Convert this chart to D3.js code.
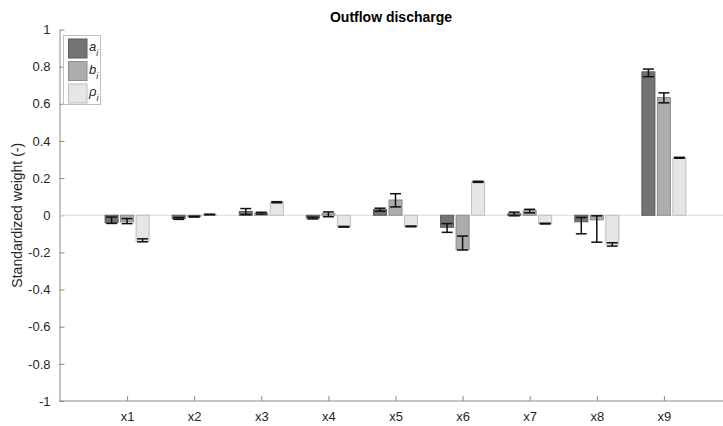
<!DOCTYPE html>
<html>
<head>
<meta charset="utf-8">
<script src="https://cdn.jsdelivr.net/npm/d3@7"></script>
<style>
  html, body { margin: 0; padding: 0; background: #fff; }
  svg { display: block; font-family: "Liberation Sans", Arial, sans-serif; }
</style>
</head>
<body>
<svg id="chart" width="723" height="426"></svg>
<script>
// Predictors
const categories = ["x1", "x2", "x3", "x4", "x5", "x6", "x7", "x8", "x9"];

// Standardized weights per coefficient
const aValues   = [-0.040, -0.018, 0.020, -0.015, 0.030, -0.065, 0.008, -0.035, 0.772];
const bValues   = [-0.035, -0.008, 0.012, 0.008, 0.082, -0.185, 0.025, -0.025, 0.634];
const rhoValues = [-0.140, 0.004, 0.070, -0.062, -0.060, 0.180, -0.045, -0.155, 0.309];

// Error bar ranges (lower / upper)
const aLow    = [-0.044, -0.022, 0.004, -0.020, 0.022, -0.092, -0.003, -0.100, 0.746];
const aHigh   = [-0.010, -0.012, 0.036, -0.010, 0.038, -0.045, 0.017, -0.012, 0.787];
const bLow    = [-0.045, -0.010, 0.006, -0.008, 0.045, -0.187, 0.013, -0.145, 0.605];
const bHigh   = [-0.018, -0.005, 0.016, 0.018, 0.116, -0.112, 0.032, -0.003, 0.659];
const rhoLow  = [-0.143, 0.002, 0.067, -0.064, -0.062, 0.177, -0.047, -0.166, 0.307];
const rhoHigh = [-0.127, 0.006, 0.073, -0.060, -0.058, 0.183, -0.043, -0.148, 0.312];

const yTicks = [-1, -0.8, -0.6, -0.4, -0.2, 0, 0.2, 0.4, 0.6, 0.8, 1];

const series = [
  { name: "a",   values: aValues,   low: aLow,   high: aHigh,   fill: "#747474", edge: "#5a5a5a" },
  { name: "b",   values: bValues,   low: bLow,   high: bHigh,   fill: "#adadad", edge: "#8c8c8c" },
  { name: "ρ",   values: rhoValues, low: rhoLow, high: rhoHigh, fill: "#e6e6e6", edge: "#bdbdbd" }
];

const svg = d3.select("#chart");
const plotLeft = 59.5, plotBottom = 401, plotTop = 29.5;

const x = d3.scaleLinear().domain([0, 10]).range([60, 731]);
const y = d3.scaleLinear().domain([-1, 1]).range([plotBottom, plotTop]);

const barW = 13;
const offset = 15.5;
const textColor = "#262626";
const axisColor = "#8a8a8a";

// Title
svg.append("text")
  .attr("x", 391).attr("y", 22)
  .attr("text-anchor", "middle")
  .attr("font-size", 14).attr("font-weight", "bold")
  .attr("fill", "#000")
  .text("Outflow discharge");

// Y axis
const yAxis = d3.axisLeft(y).tickValues(yTicks).tickSizeInner(-5).tickSizeOuter(0)
  .tickPadding(9).tickFormat(d => d === 0 ? "0" : String(+d.toFixed(1)));
const gy = svg.append("g").attr("transform", `translate(${plotLeft},0)`).call(yAxis);
gy.select(".domain").attr("stroke", axisColor);
gy.selectAll(".tick line").attr("stroke", axisColor);
gy.selectAll(".tick text").attr("font-size", 13).attr("fill", textColor)
  .attr("font-family", "Liberation Sans, Arial, sans-serif");

// X axis
const xAxis = d3.axisBottom(x).tickValues(d3.range(1, 10)).tickSizeInner(-5).tickSizeOuter(0)
  .tickPadding(11).tickFormat(d => categories[d - 1]);
const gx = svg.append("g").attr("transform", `translate(0,${plotBottom})`).call(xAxis);
gx.select(".domain").attr("stroke", axisColor).attr("d", `M${plotLeft},0H723`);
gx.selectAll(".tick line").attr("stroke", axisColor);
gx.selectAll(".tick text").attr("font-size", 13).attr("fill", textColor)
  .attr("font-family", "Liberation Sans, Arial, sans-serif");

// Y label
svg.append("text")
  .attr("transform", `translate(22,${(plotTop + plotBottom) / 2}) rotate(-90)`)
  .attr("text-anchor", "middle")
  .attr("font-size", 14).attr("fill", textColor)
  .text("Standardized weight (-)");

// Zero baseline
svg.append("line")
  .attr("x1", plotLeft).attr("x2", 723)
  .attr("y1", y(0)).attr("y2", y(0))
  .attr("stroke", "#d9d9d9").attr("stroke-width", 1);

// Bars and error bars
series.forEach((s, si) => {
  const g = svg.append("g");
  const dx = (si - 1) * offset;
  g.selectAll("rect").data(s.values).join("rect")
    .attr("x", (d, i) => x(i + 1) + dx - barW / 2)
    .attr("width", barW)
    .attr("y", d => Math.min(y(d), y(0)))
    .attr("height", d => Math.abs(y(d) - y(0)))
    .attr("fill", s.fill)
    .attr("stroke", s.edge).attr("stroke-width", 1);

  const eb = svg.append("g").attr("stroke", "#111").attr("stroke-width", 1.5).attr("fill", "none");
  s.values.forEach((v, i) => {
    const cx = x(i + 1) + dx;
    const y1 = y(s.low[i]), y2 = y(s.high[i]);
    eb.append("line").attr("x1", cx).attr("x2", cx).attr("y1", y1).attr("y2", y2);
    eb.append("line").attr("x1", cx - 5.5).attr("x2", cx + 5.5).attr("y1", y1).attr("y2", y1);
    eb.append("line").attr("x1", cx - 5.5).attr("x2", cx + 5.5).attr("y1", y2).attr("y2", y2);
  });
});

// Legend
const lg = svg.append("g");
lg.append("rect")
  .attr("x", 63.5).attr("y", 35.5).attr("width", 37).attr("height", 69)
  .attr("fill", "#fff").attr("stroke", "#bfbfbf").attr("stroke-width", 1);
series.forEach((s, si) => {
  const yy = 39 + si * 22.5;
  lg.append("rect")
    .attr("x", 68.5).attr("y", yy).attr("width", 18.5).attr("height", 19)
    .attr("fill", s.fill).attr("stroke", s.edge).attr("stroke-width", 1);
  const t = lg.append("text")
    .attr("x", 89).attr("y", yy + 12)
    .attr("font-size", 13).attr("fill", textColor)
    .attr("font-style", "italic");
  t.append("tspan").text(s.name);
  t.append("tspan").attr("dy", 5).attr("font-size", 9).text("i");
});
</script>
</body>
</html>
